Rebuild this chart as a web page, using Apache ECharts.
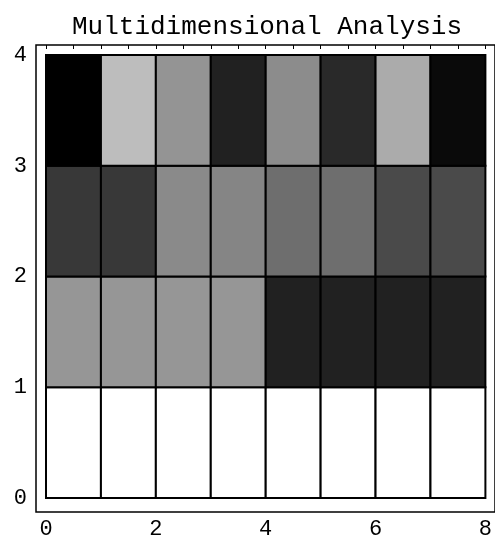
<!DOCTYPE html>
<html>
<head>
<meta charset="utf-8">
<script src="https://cdn.jsdelivr.net/npm/echarts@6/dist/echarts.min.js"></script>
<style>
  html, body { margin: 0; padding: 0; background: #fff; }
  #chart { width: 495px; height: 540px; }
</style>
</head>
<body>
<div id="chart"></div>
<script>
// Gray level (0 = black, 1 = white) of each cell, one array per row, left to right.
const xStarts = [0, 1, 2, 3, 4, 5, 6, 7];
const row0 = [1, 1, 1, 1, 1, 1, 1, 1];                              // y 0..1
const row1 = [0.59, 0.59, 0.59, 0.59, 0.13, 0.13, 0.13, 0.13];      // y 1..2
const row2 = [0.22, 0.22, 0.54, 0.52, 0.43, 0.43, 0.29, 0.29];      // y 2..3
const row3 = [0.00, 0.74, 0.58, 0.13, 0.55, 0.16, 0.67, 0.04];      // y 3..4
const rows = [row0, row1, row2, row3];
const xTickLabels = [0, 2, 4, 6, 8];
const yTickLabels = [0, 1, 2, 3, 4];

const cells = [];
rows.forEach((row, y) => row.forEach((v, i) => cells.push([xStarts[i], y, v])));

const mono = 'Liberation Mono';
const near = (a, b) => Math.abs(a - b) < 1e-6;

const chart = echarts.init(document.getElementById('chart'), null, { renderer: 'canvas' });
chart.setOption({
  animation: false,
  backgroundColor: '#fff',
  title: {
    text: 'Multidimensional Analysis',
    left: 67,
    top: 9,
    textStyle: { fontFamily: mono, fontWeight: 'normal', fontSize: 26, color: '#000' }
  },
  grid: [
    { left: 46, right: 4, top: 55, bottom: 39 },
    { left: 36, right: -6, top: 45, bottom: 28, show: true, borderColor: '#000', borderWidth: 1.5, backgroundColor: 'transparent' }
  ],
  xAxis: [
    {
      type: 'value', gridIndex: 0, position: 'bottom', offset: 11,
      min: 0, max: 8, interval: 0.5,
      axisLine: { show: false },
      splitLine: { show: false },
      axisTick: { show: true, inside: true, length: 4, lineStyle: { color: '#000', width: 1 } },
      axisLabel: {
        margin: 9, color: '#000', fontFamily: mono, fontSize: 22,
        formatter: v => xTickLabels.some(t => near(t, v)) ? String(Math.round(v)) : ''
      }
    },
    {
      type: 'value', gridIndex: 0, position: 'top', offset: 10,
      min: 0, max: 8, interval: 0.5,
      axisLine: { show: false },
      splitLine: { show: false },
      axisTick: { show: true, inside: true, length: 4, lineStyle: { color: '#000', width: 1 } },
      axisLabel: { show: false }
    },
    { type: 'value', gridIndex: 1, show: false, min: 0, max: 1 }
  ],
  yAxis: [
    {
      type: 'value', gridIndex: 0, position: 'left', offset: 10,
      min: 0, max: 4, interval: 0.2,
      axisLine: { show: false },
      splitLine: { show: false },
      axisTick: { show: true, inside: true, length: 4, lineStyle: { color: '#000', width: 1 } },
      axisLabel: {
        margin: 9, color: '#000', fontFamily: mono, fontSize: 22,
        formatter: v => yTickLabels.some(t => near(t, v)) ? String(Math.round(v)) : ''
      }
    },
    { type: 'value', gridIndex: 1, show: false, min: 0, max: 1 }
  ],
  series: [{
    type: 'custom',
    xAxisIndex: 0,
    yAxisIndex: 0,
    data: cells,
    renderItem: (params, api) => {
      const x = api.value(0), y = api.value(1), v = api.value(2);
      const p0 = api.coord([x, y + 1]);
      const p1 = api.coord([x + 1, y]);
      const g = Math.round(v * 255);
      return {
        type: 'rect',
        shape: { x: p0[0], y: p0[1], width: p1[0] - p0[0], height: p1[1] - p0[1] },
        style: { fill: `rgb(${g},${g},${g})`, stroke: '#000', lineWidth: 2 }
      };
    }
  }]
});
</script>
</body>
</html>
